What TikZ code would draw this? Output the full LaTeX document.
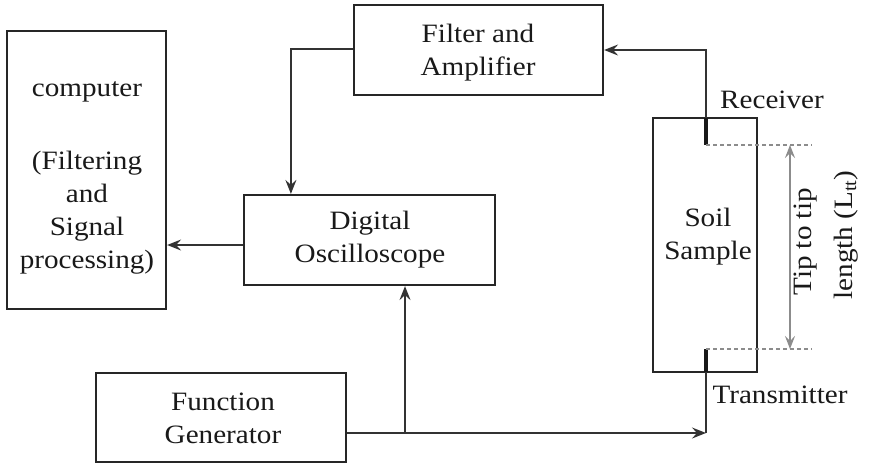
\documentclass[tikz,border=0pt]{standalone}
\usepackage{fontspec}
\setmainfont[FakeStretch=1.1]{Liberation Serif}
\usetikzlibrary{arrows.meta,calc}
\begin{document}
\begin{tikzpicture}[x=1pt,y=-1pt,
  box/.style={draw=black!85,line width=2.2pt,rectangle,inner sep=0pt},
  lbl/.style={font=\fontsize{26.5}{33}\selectfont,text=black!90,inner sep=0pt,align=center},
  conn/.style={draw=black!80,line width=1.7pt},
  arr/.style={conn,-{Stealth[length=14pt,width=11pt,inset=5pt]}},
  probe/.style={draw=black!90,line width=4.5pt},
  dim/.style={draw=black!45,line width=1.3pt,{Stealth[length=13pt,width=10pt,inset=5pt]}-{Stealth[length=13pt,width=10pt,inset=5pt]}},
  guide/.style={draw=black!45,line width=1.2pt,dashed,dash pattern=on 4pt off 3pt}]
\useasboundingbox (0,0) rectangle (875,466);
\fill[white] (0,0) rectangle (875,466);
% boxes
\node[box,minimum width=159pt,minimum height=278pt] (comp) at (86.5,170) {};
\node[box,minimum width=249pt,minimum height=90pt] (filt) at (478.5,50) {};
\node[box,minimum width=251pt,minimum height=90pt] (osc) at (369.5,240) {};
\node[box,minimum width=250pt,minimum height=89pt] (fg) at (221,417.5) {};
\node[box,minimum width=104pt,minimum height=254pt] (soil) at (705,245) {};
% labels
\node[lbl] (tcomp) at (87,92) {computer};
\node[lbl] (tcomp2) at (87,213) {(Filtering\\and\\Signal\\processing)};
\node[lbl] (tfilt) at (478,53) {Filter and\\Amplifier};
\node[lbl] (tosc) at (370,240) {Digital\\Oscilloscope};
\node[lbl] (tfg) at (223,418) {Function\\Generator};
\node[lbl] (tsoil) at (708,237) {Soil\\Sample};
\node[lbl] (trec) at (772,100) {Receiver};
\node[lbl] (ttr) at (780,395) {Transmitter};
\node[lbl,rotate=90] (ttip) at (806,242) {Tip to tip};
\node[lbl,rotate=90] (tlen) at (846,235) {length (L\textsubscript{tt})};
% probe coordinates
\coordinate (rtop) at (706,118);
\coordinate (rtip) at (706,145);
\coordinate (tbot) at (706,372);
\coordinate (ttipc) at (706,349);
\coordinate (fgj) at (706,433);
\coordinate (br) at (405,433);
% probes
\draw[probe] (rtop) -- (rtip);
\draw[probe] (ttipc) -- (tbot);
% connectors
\draw[arr] (rtop) |- (filt.east);
\draw[arr] ([yshift=1pt]filt.west) -| ($(osc.north west)+(48,0)$);
\draw[arr] ([yshift=-5pt]osc.west) -- ([yshift=-5pt]osc.west -| comp.east);
\draw[arr] ([yshift=-15.5pt]fg.east) -- (fgj);
\draw[conn] (fgj) -- (tbot);
\draw[arr] (br) -- (br |- osc.south);
% dimension
\coordinate (g1) at (812,145);
\coordinate (g2) at (812,349);
\draw[guide] (rtip) -- (g1);
\draw[guide] (ttipc) -- (g2);
\draw[dim] (790,145) -- (790,349);
\end{tikzpicture}
\end{document}
